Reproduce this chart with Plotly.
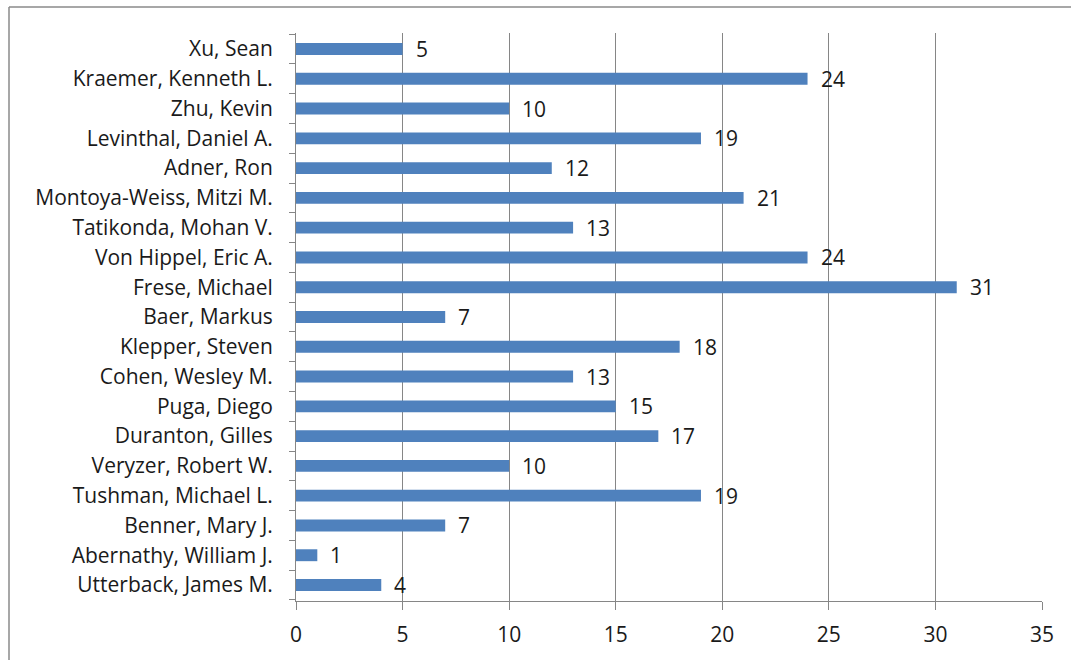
import plotly.graph_objects as go

names = ["Utterback, James M.", "Abernathy, William J.", "Benner, Mary J.",
         "Tushman, Michael L.", "Veryzer, Robert W.", "Duranton, Gilles",
         "Puga, Diego", "Cohen, Wesley M.", "Klepper, Steven", "Baer, Markus",
         "Frese, Michael", "Von Hippel, Eric A.", "Tatikonda, Mohan V.",
         "Montoya-Weiss, Mitzi M.", "Adner, Ron", "Levinthal, Daniel A.",
         "Zhu, Kevin", "Kraemer, Kenneth L.", "Xu, Sean"]
values = [4, 1, 7, 19, 10, 17, 15, 13, 18, 7, 31, 24, 13, 21, 12, 19, 10, 24, 5]
x_ticks = [0, 5, 10, 15, 20, 25, 30, 35]

W, H = 1071, 660
L, R, T, B = 296, 29, 33, 57
pw = W - L - R
ph = H - T - B

font = "Open Sans"
fs = 21
txt = "#1a1a1a"
grid = "#868686"

fig = go.Figure(go.Bar(
    y=names, x=values, orientation="h",
    marker=dict(color="#4F81BD", line=dict(width=0)),
))

for n, v in zip(names, values):
    fig.add_annotation(x=v, y=n, text=str(v), showarrow=False,
                       xanchor="left", xshift=11, yshift=0,
                       font=dict(family=font, size=fs, color=txt))

# outer chart border: only the left and top edges fall inside the picture
bx0 = (9 - L) / pw
by1 = (H - B - 7) / ph
fig.add_shape(type="line", xref="paper", yref="paper",
              x0=bx0, x1=bx0, y0=-0.2, y1=by1,
              line=dict(color="#8a8a8a", width=1.5), layer="below")
fig.add_shape(type="line", xref="paper", yref="paper",
              x0=bx0, x1=1.2, y0=by1, y1=by1,
              line=dict(color="#8a8a8a", width=1.5), layer="below")

fig.update_layout(
    width=W, height=H,
    margin=dict(l=L, r=R, t=T, b=B),
    paper_bgcolor="white", plot_bgcolor="white",
    bargap=0.6, showlegend=False,
    font=dict(family=font, size=fs, color=txt),
    xaxis=dict(range=[0, 35], tickvals=x_ticks, ticktext=[str(t) for t in x_ticks],
               showgrid=True, gridcolor=grid, gridwidth=1,
               showline=True, linecolor=grid, linewidth=1,
               ticks="outside", ticklen=8, tickcolor=grid,
               ticklabelstandoff=7, zeroline=False,
               tickfont=dict(family=font, size=fs, color=txt)),
    yaxis=dict(categoryorder="array", categoryarray=names,
               showline=True, linecolor=grid, linewidth=1,
               ticks="outside", ticklen=6, tickcolor=grid,
               tickson="boundaries", showgrid=False,
               ticklabelstandoff=18,
               tickfont=dict(family=font, size=fs, color=txt)),
)

fig.write_html(
    "out.html",
    config={"displayModeBar": False},
    post_script=(
        "document.documentElement.style.margin='0';"
        "document.body.style.margin='0';"
        "document.documentElement.style.overflow='hidden';"
        "document.body.style.overflow='hidden';"
    ),
)
